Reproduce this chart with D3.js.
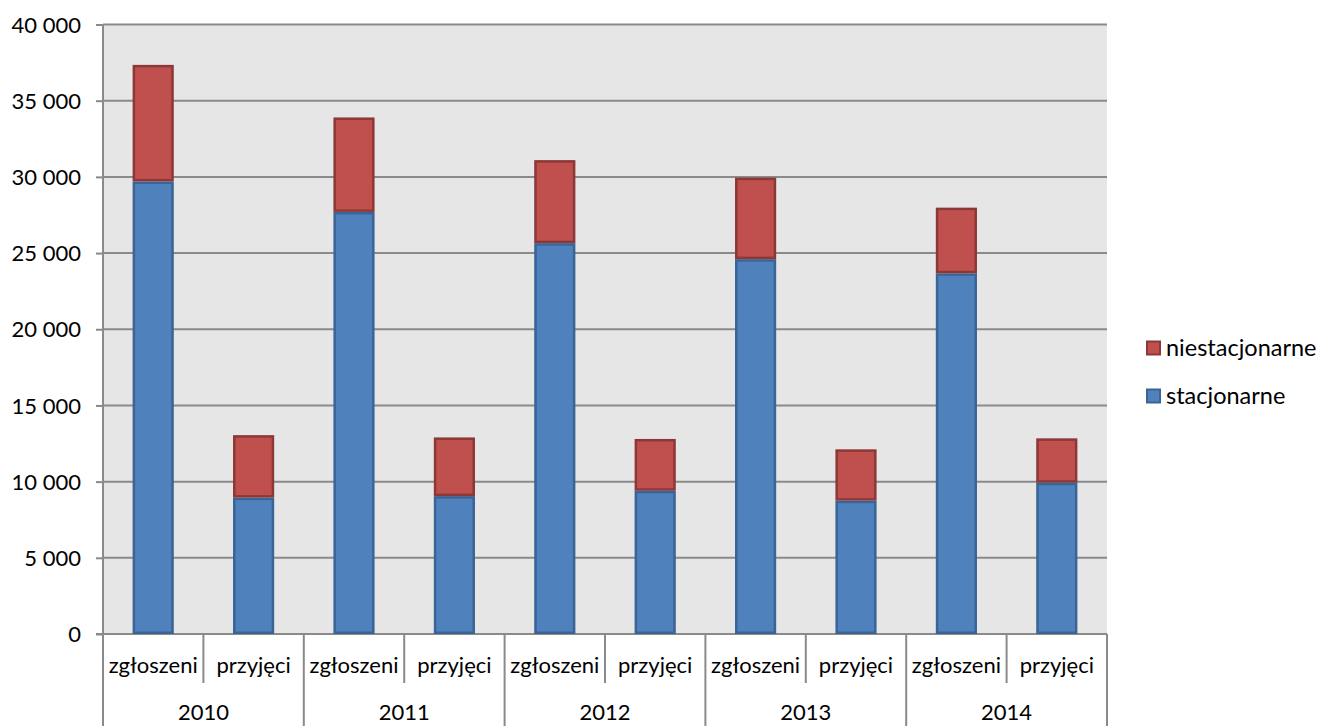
<!DOCTYPE html>
<html><head><meta charset="utf-8">
<script src="https://cdn.jsdelivr.net/npm/d3@7"></script>
<style>body{margin:0;background:#fff;} svg{display:block;} text{font-family:Lato, "Open Sans", sans-serif;fill:#000;}</style>
</head><body>
<svg id="c" width="1323" height="726"></svg>
<script>
const years = ["2010","2011","2012","2013","2014"];
const groups = ["zgłoszeni","przyjęci"];
const stacjonarne    = [29700, 8950, 27700, 9050, 25650, 9400, 24600, 8750, 23670, 9930];
const niestacjonarne = [7650, 4100, 6200, 3850, 5450, 3400, 5350, 3370, 4310, 2910];
const yTicks = [0,5000,10000,15000,20000,25000,30000,35000,40000];
const seriesNames = ["stacjonarne","niestacjonarne"];
const colors = {stacjonarne:"#4f81bd", niestacjonarne:"#c0504d"};
const strokes = {stacjonarne:"#3a6495", niestacjonarne:"#8c3836"};

const cats = [];
years.forEach(y => groups.forEach(g => cats.push(y + "|" + g)));
const rows = cats.map((c,i) => ({cat:c, stacjonarne:stacjonarne[i], niestacjonarne:niestacjonarne[i]}));

const svg = d3.select("#c");
const L = 103, R = 1107, T = 24.5, B = 634;
const x = d3.scaleBand().domain(cats).range([L,R]).paddingInner(0.59).paddingOuter(0.295);
const xb = d3.scaleBand().domain(cats).range([L,R]);
const y = d3.scaleLinear().domain([0,40000]).range([B,T]);

svg.append("rect").attr("x",L).attr("y",T).attr("width",R-L).attr("height",B-T).attr("fill","#e6e6e6");

// gridlines
svg.append("g").selectAll("line").data(yTicks.filter(d=>d>0)).join("line")
  .attr("x1",L).attr("x2",R).attr("y1",d=>y(d)).attr("y2",d=>y(d))
  .attr("stroke","#8a8a8a").attr("stroke-width",2);

// y axis
const ya = svg.append("g").attr("transform",`translate(${L},0)`)
  .call(d3.axisLeft(y).tickValues(yTicks).tickSize(7).tickPadding(15)
    .tickFormat(d => d3.format(",")(d).replace(/,/g," ")));
ya.select(".domain").remove();
ya.selectAll("line").attr("stroke","#8a8a8a").attr("stroke-width",2);
ya.selectAll("text").attr("font-size",22).attr("font-family","Lato").attr("dy","0.35em");
svg.append("line").attr("x1",L).attr("x2",L).attr("y1",T).attr("y2",726).attr("stroke","#8a8a8a").attr("stroke-width",2);
svg.append("line").attr("x1",L-7).attr("x2",R).attr("y1",B).attr("y2",B).attr("stroke","#8a8a8a").attr("stroke-width",2);

// stacked bars
const stack = d3.stack().keys(seriesNames)(rows);
svg.append("g").selectAll("g").data(stack).join("g")
  .attr("fill",d=>colors[d.key]).attr("stroke",d=>strokes[d.key]).attr("stroke-width",2.5)
  .selectAll("rect").data(d=>d).join("rect")
  .attr("x",d=>x(d.data.cat)+1.25).attr("width",x.bandwidth()-2.5)
  .attr("y",d=>y(d[1])+1.25).attr("height",d=>y(d[0])-y(d[1])-2.5);

// x axis: category separators
cats.forEach((c,i) => {
  const xr = xb(c) + xb.bandwidth();
  const isYearEnd = (i % 2 === 1);
  svg.append("line").attr("x1",xr).attr("x2",xr).attr("y1",B).attr("y2",isYearEnd?726:683)
    .attr("stroke","#8a8a8a").attr("stroke-width",2);
  svg.append("text").attr("x",xb(c)+xb.bandwidth()/2).attr("y",665).attr("dy","0.35em")
    .attr("text-anchor","middle").attr("font-size",22).text(c.split("|")[1]);
});
years.forEach((yr,i) => {
  const cx = (xb(cats[2*i]) + xb(cats[2*i+1]) + xb.bandwidth())/2;
  svg.append("text").attr("x",cx).attr("y",712).attr("dy","0.35em")
    .attr("text-anchor","middle").attr("font-size",22).text(yr);
});

// legend
const leg = [{k:"niestacjonarne", y:348},{k:"stacjonarne", y:396}];
const lg = svg.append("g");
leg.forEach(l => {
  lg.append("rect").attr("x",1147).attr("y",l.y-6.5).attr("width",13).attr("height",13)
    .attr("fill",colors[l.k]).attr("stroke",strokes[l.k]).attr("stroke-width",2);
  lg.append("text").attr("x",1166).attr("y",l.y).attr("dy","0.35em").attr("font-size",23.5).text(l.k);
});
</script>
</body></html>
